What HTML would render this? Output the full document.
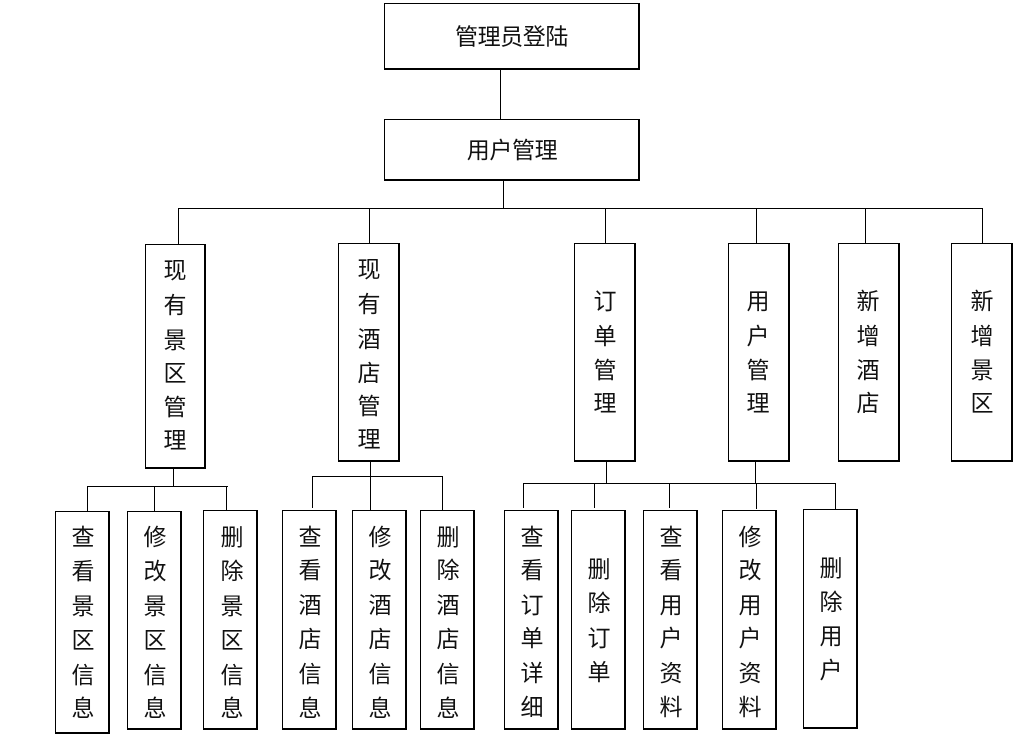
<!DOCTYPE html>
<html lang="zh-CN">
<head>
<meta charset="utf-8">
<style>
html,body{margin:0;padding:0;background:#fff;}
#c{position:relative;width:1034px;height:740px;overflow:hidden;background:#fff;}
.b{position:absolute;box-sizing:border-box;background:#fff;border-style:solid;border-color:#000;border-width:1px 2px 2px 1px;}
svg{position:absolute;left:0;top:0;}
text{font-family:"Liberation Sans","Noto Sans CJK SC",sans-serif;font-size:23px;text-anchor:middle;fill:#111;}
line{stroke:#000;stroke-width:1;shape-rendering:crispEdges;}
</style>
</head>
<body>
<div id="c">
<div class="b" style="left:384px;top:3px;width:256px;height:67px"></div>
<div class="b" style="left:384px;top:119px;width:256px;height:62px"></div>
<div class="b" style="left:145px;top:244px;width:61px;height:225px"></div>
<div class="b" style="left:338px;top:243px;width:62px;height:219px"></div>
<div class="b" style="left:574px;top:243px;width:62px;height:219px"></div>
<div class="b" style="left:728px;top:243px;width:62px;height:219px"></div>
<div class="b" style="left:838px;top:243px;width:62px;height:219px"></div>
<div class="b" style="left:951px;top:243px;width:62px;height:219px"></div>
<div class="b" style="left:55px;top:511px;width:55px;height:223px"></div>
<div class="b" style="left:127px;top:511px;width:55px;height:219px"></div>
<div class="b" style="left:203px;top:510px;width:55px;height:220px"></div>
<div class="b" style="left:282px;top:510px;width:55px;height:220px"></div>
<div class="b" style="left:352px;top:510px;width:55px;height:220px"></div>
<div class="b" style="left:420px;top:510px;width:55px;height:220px"></div>
<div class="b" style="left:504px;top:510px;width:55px;height:220px"></div>
<div class="b" style="left:571px;top:510px;width:55px;height:220px"></div>
<div class="b" style="left:643px;top:510px;width:55px;height:220px"></div>
<div class="b" style="left:722px;top:510px;width:55px;height:220px"></div>
<div class="b" style="left:803px;top:509px;width:55px;height:220px"></div>
<svg width="1034" height="740" viewBox="0 0 1034 740">
<line x1="500.5" y1="70" x2="500.5" y2="119"/>
<line x1="503.5" y1="181" x2="503.5" y2="209"/>
<line x1="178" y1="208.5" x2="983" y2="208.5"/>
<line x1="178.5" y1="208" x2="178.5" y2="244"/>
<line x1="369.5" y1="208" x2="369.5" y2="243"/>
<line x1="605.5" y1="208" x2="605.5" y2="243"/>
<line x1="756.5" y1="208" x2="756.5" y2="243"/>
<line x1="865.5" y1="208" x2="865.5" y2="243"/>
<line x1="982.5" y1="208" x2="982.5" y2="243"/>
<line x1="173.5" y1="469" x2="173.5" y2="486"/>
<line x1="87" y1="486.5" x2="228" y2="486.5"/>
<line x1="87.5" y1="486" x2="87.5" y2="511"/>
<line x1="154.5" y1="486" x2="154.5" y2="511"/>
<line x1="226.5" y1="486" x2="226.5" y2="510"/>
<line x1="370.5" y1="462" x2="370.5" y2="510"/>
<line x1="312" y1="476.5" x2="443" y2="476.5"/>
<line x1="312.5" y1="476" x2="312.5" y2="508"/>
<line x1="442.5" y1="476" x2="442.5" y2="510"/>
<line x1="606.5" y1="462" x2="606.5" y2="483"/>
<line x1="755.5" y1="462" x2="755.5" y2="483"/>
<line x1="523" y1="483.5" x2="836" y2="483.5"/>
<line x1="523.5" y1="483" x2="523.5" y2="508"/>
<line x1="594.5" y1="483" x2="594.5" y2="508"/>
<line x1="669.5" y1="483" x2="669.5" y2="508"/>
<line x1="756.5" y1="483" x2="756.5" y2="509"/>
<line x1="835.5" y1="483" x2="835.5" y2="509"/>

<text x="511.5" y="44.5" style="letter-spacing:-0.4px">管理员登陆</text>
<text x="512" y="158" style="letter-spacing:-0.4px">用户管理</text>

<text x="175" y="278">现</text><text x="175" y="313">有</text><text x="175" y="348">景</text><text x="175" y="381">区</text><text x="175" y="415">管</text><text x="175" y="448">理</text>
<text x="369" y="277">现</text><text x="369" y="312">有</text><text x="369" y="347">酒</text><text x="369" y="381">店</text><text x="369" y="414">管</text><text x="369" y="447">理</text>
<text x="605" y="309">订</text><text x="605" y="344">单</text><text x="605" y="378">管</text><text x="605" y="411">理</text>
<text x="758" y="309">用</text><text x="758" y="344">户</text><text x="758" y="378">管</text><text x="758" y="411">理</text>
<text x="868" y="309">新</text><text x="868" y="344">增</text><text x="868" y="378">酒</text><text x="868" y="411">店</text>
<text x="982" y="309">新</text><text x="982" y="344">增</text><text x="982" y="378">景</text><text x="982" y="411">区</text>

<text x="83" y="545">查</text><text x="83" y="579">看</text><text x="83" y="614">景</text><text x="83" y="648">区</text><text x="83" y="683">信</text><text x="83" y="716">息</text>
<text x="155" y="545">修</text><text x="155" y="579">改</text><text x="155" y="614">景</text><text x="155" y="648">区</text><text x="155" y="683">信</text><text x="155" y="716">息</text>
<text x="232" y="545">删</text><text x="232" y="579">除</text><text x="232" y="614">景</text><text x="232" y="648">区</text><text x="232" y="683">信</text><text x="232" y="716">息</text>

<text x="310" y="545">查</text><text x="310" y="578">看</text><text x="310" y="613">酒</text><text x="310" y="647">店</text><text x="310" y="682">信</text><text x="310" y="716">息</text>
<text x="380" y="545">修</text><text x="380" y="578">改</text><text x="380" y="613">酒</text><text x="380" y="647">店</text><text x="380" y="682">信</text><text x="380" y="716">息</text>
<text x="448" y="545">删</text><text x="448" y="578">除</text><text x="448" y="613">酒</text><text x="448" y="647">店</text><text x="448" y="682">信</text><text x="448" y="716">息</text>

<text x="532" y="545">查</text><text x="532" y="578">看</text><text x="532" y="613">订</text><text x="532" y="646">单</text><text x="532" y="681">详</text><text x="532" y="715">细</text>
<text x="599" y="577">删</text><text x="599" y="611">除</text><text x="599" y="646">订</text><text x="599" y="680">单</text>
<text x="671" y="545">查</text><text x="671" y="578">看</text><text x="671" y="613">用</text><text x="671" y="646">户</text><text x="671" y="681">资</text><text x="671" y="715">料</text>
<text x="750" y="545">修</text><text x="750" y="578">改</text><text x="750" y="613">用</text><text x="750" y="646">户</text><text x="750" y="681">资</text><text x="750" y="715">料</text>
<text x="831" y="576">删</text><text x="831" y="610">除</text><text x="831" y="644">用</text><text x="831" y="678">户</text>
</svg>
</div>
</body>
</html>
